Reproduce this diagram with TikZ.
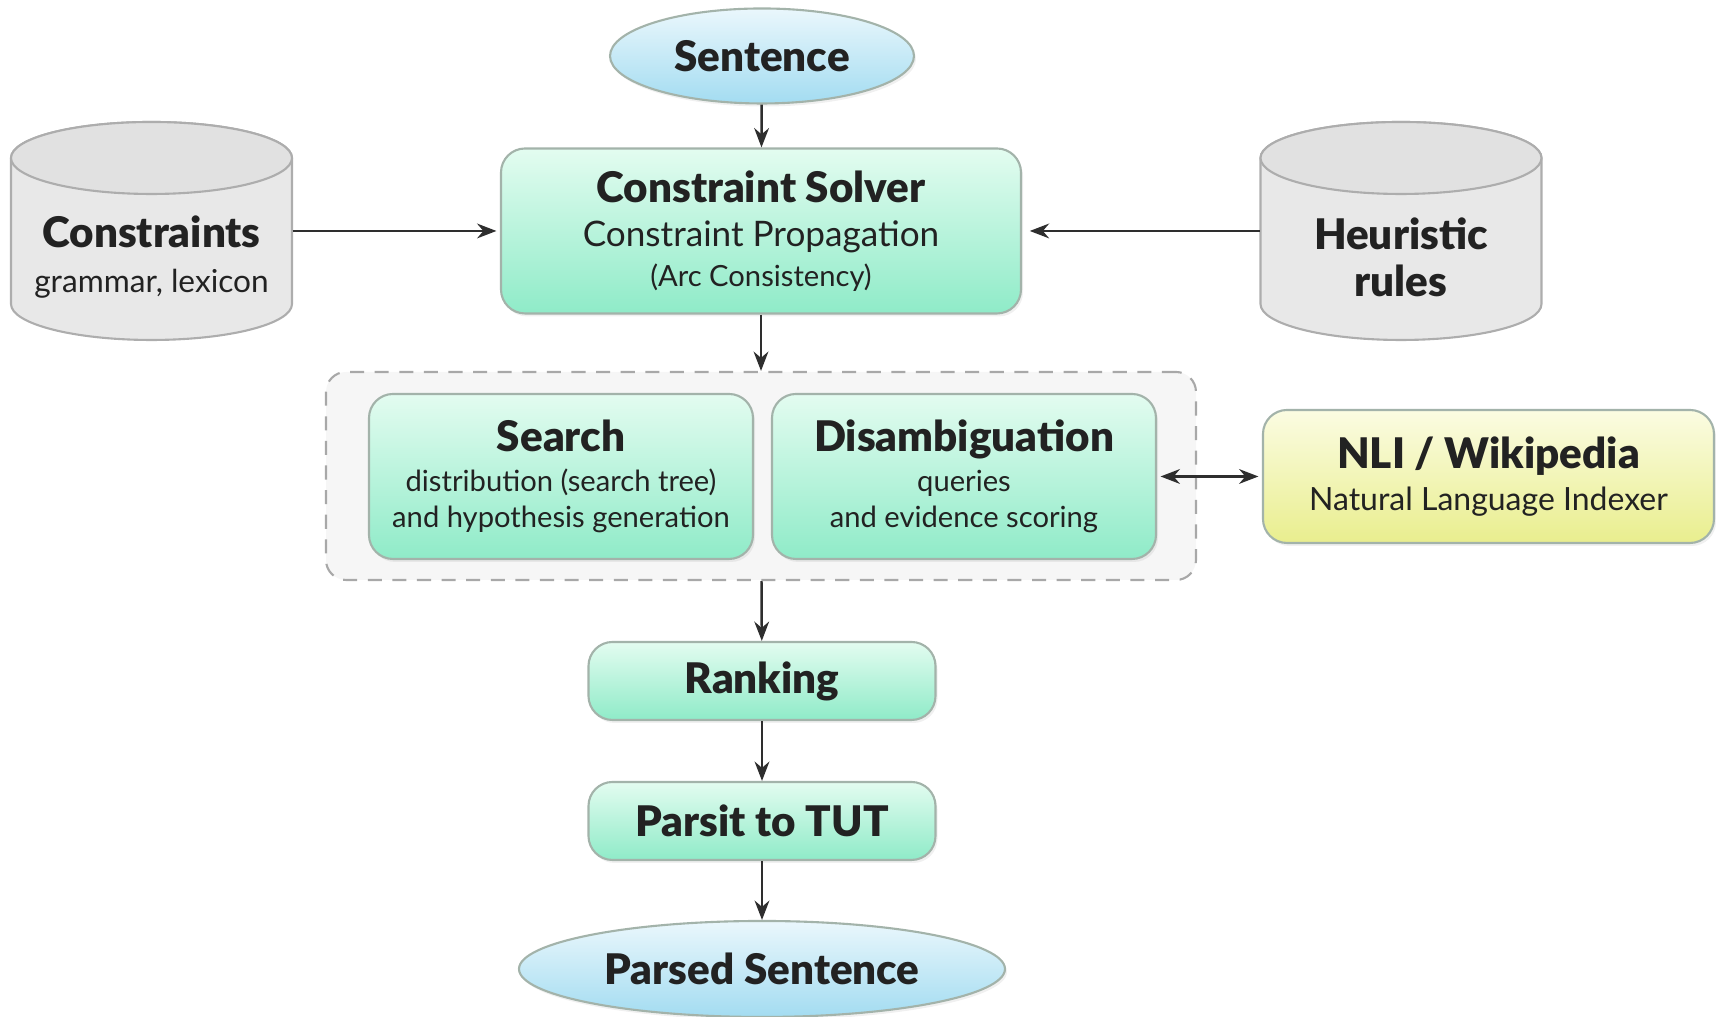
\documentclass[tikz,border=0pt]{standalone}
\usepackage{fontspec}
\setmainfont{Lato}[BoldFont={Lato Black}]
\usetikzlibrary{shapes.geometric,arrows.meta,positioning,shadows}

\definecolor{mintTop}{HTML}{E3FCF0}
\definecolor{mintBot}{HTML}{8FEBC8}
\definecolor{skyTop}{HTML}{EAF7FC}
\definecolor{skyBot}{HTML}{A3DCF1}
\definecolor{lemonTop}{HTML}{FBFCE2}
\definecolor{lemonBot}{HTML}{E9EE8E}
\definecolor{boxLine}{HTML}{A3B3AA}
\definecolor{cylBody}{HTML}{E8E8E8}
\definecolor{cylEnd}{HTML}{E1E1E1}
\definecolor{cylLine}{HTML}{ADADAD}
\definecolor{groupFill}{HTML}{F6F6F6}
\definecolor{groupLine}{HTML}{A8A8A8}
\definecolor{ink}{HTML}{222222}
\definecolor{arrowGray}{HTML}{2E2E2E}

\newcommand{\headtxt}[1]{{\bfseries\fontsize{12}{14}\selectfont #1}}
\newcommand{\subtxt}[1]{{\fontsize{8.3}{10}\selectfont #1}}

\tikzset{
  softshadow/.style={drop shadow={opacity=0.12,shadow xshift=0.02cm,shadow yshift=-0.03cm}},
  stage/.style={draw=boxLine,line width=0.6pt,rounded corners=0.24cm,
    top color=mintTop,bottom color=mintBot,align=center,inner sep=0pt,
    text=ink,font=\fontsize{8}{12}\selectfont,softshadow},
  oracle/.style={stage,top color=lemonTop,bottom color=lemonBot},
  terminal/.style={ellipse,draw=boxLine,line width=0.6pt,inner sep=0pt,
    top color=skyTop,bottom color=skyBot,text=ink,softshadow},
  store/.style={minimum width=2.81cm,minimum height=2.18cm,inner sep=0pt},
  storetext/.style={align=center,text=ink,font=\fontsize{8}{12.8}\selectfont},
  groupbox/.style={draw=groupLine,dash pattern=on 4pt off 3pt,line width=0.6pt,
    fill=groupFill,rounded corners=0.2cm,minimum width=8.70cm,minimum height=2.08cm},
  flow/.style={-{Stealth[length=5.5pt,width=4.2pt]},line width=0.7pt,draw=arrowGray},
  flowboth/.style={{Stealth[length=5.5pt,width=4.2pt]}-{Stealth[length=5.5pt,width=4.2pt]},
    line width=0.7pt,draw=arrowGray},
  pics/storecyl/.style={code={
    \path[draw=cylLine,line width=0.6pt,fill=cylBody]
      (-1.405,0.73) -- (-1.405,-0.73)
      arc[start angle=180,end angle=360,x radius=1.405,y radius=0.36]
      -- (1.405,0.73)
      arc[start angle=0,end angle=180,x radius=1.405,y radius=0.36] -- cycle;
    \path[draw=cylLine,line width=0.6pt,fill=cylEnd]
      (0,0.73) ellipse[x radius=1.405,y radius=0.36];
  }}
}

\begin{document}
\begin{tikzpicture}
  \useasboundingbox (0,0) rectangle (17.16,10.17);
  \draw
    (7.61,5.41) node[groupbox] (group) {}
    (7.62,9.61) node[terminal,minimum width=3.04cm,minimum height=0.95cm] (sent) {\headtxt{Sentence}}
    (7.61,7.86) node[stage,minimum width=5.20cm,minimum height=1.65cm] (solver)
      {\headtxt{Constraint Solver}\\[0.6pt]{\fontsize{10}{12}\selectfont Constraint Propagation}\\[-0.6pt]\subtxt{(Arc Consistency)}}
    (1.515,7.86) pic {storecyl} node[store] (cons) {}
    (14.01,7.86) pic {storecyl} node[store] (heur) {}
    (5.61,5.405) node[stage,minimum width=3.84cm,minimum height=1.65cm] (search)
      {\headtxt{Search}\\[-0.5pt]\subtxt{distribution (search tree)}\\[-1.8pt]\subtxt{and hypothesis generation}}
    (9.64,5.405) node[stage,minimum width=3.84cm,minimum height=1.65cm] (disamb)
      {\headtxt{Disambiguation}\\[-0.5pt]\subtxt{queries}\\[-1.8pt]\subtxt{and evidence scoring}}
    (14.885,5.405) node[oracle,minimum width=4.51cm,minimum height=1.33cm] (nli)
      {\headtxt{NLI / Wikipedia}\\{\fontsize{9.1}{12}\selectfont Natural Language Indexer}}
    (7.62,3.36) node[stage,minimum width=3.47cm,minimum height=0.78cm] (rank) {\headtxt{Ranking}}
    (7.62,1.96) node[stage,minimum width=3.47cm,minimum height=0.78cm] (parsit) {\headtxt{Parsit to TUT}}
    (7.62,0.48) node[terminal,minimum width=4.86cm,minimum height=0.96cm] (parsed) {\headtxt{Parsed Sentence}};
  % labels inside the two stores
  \node[storetext] (consTxt) at ([yshift=-0.26cm]cons.center)
    {\headtxt{Constraints}\\{\fontsize{9}{12}\selectfont grammar, lexicon}};
  \node[storetext] (heurTxt) at ([yshift=-0.26cm]heur.center)
    {\headtxt{Heuristic}\\[0.6pt]\headtxt{rules}};
  \begin{scope}[flow]
    \draw (sent) to (solver);
    \draw (solver) to (group);
    \draw (group) to (rank);
    \draw (rank) to (parsit);
    \draw (parsit) to (parsed);
    \draw[shorten >=1pt] (cons.east) to (solver.west);
    \draw[shorten >=2.2pt] (heur.west) to (solver.east);
  \end{scope}
  \draw[flowboth,shorten <=1pt,shorten >=1pt] (disamb.east) to (nli.west);
\end{tikzpicture}
\end{document}
